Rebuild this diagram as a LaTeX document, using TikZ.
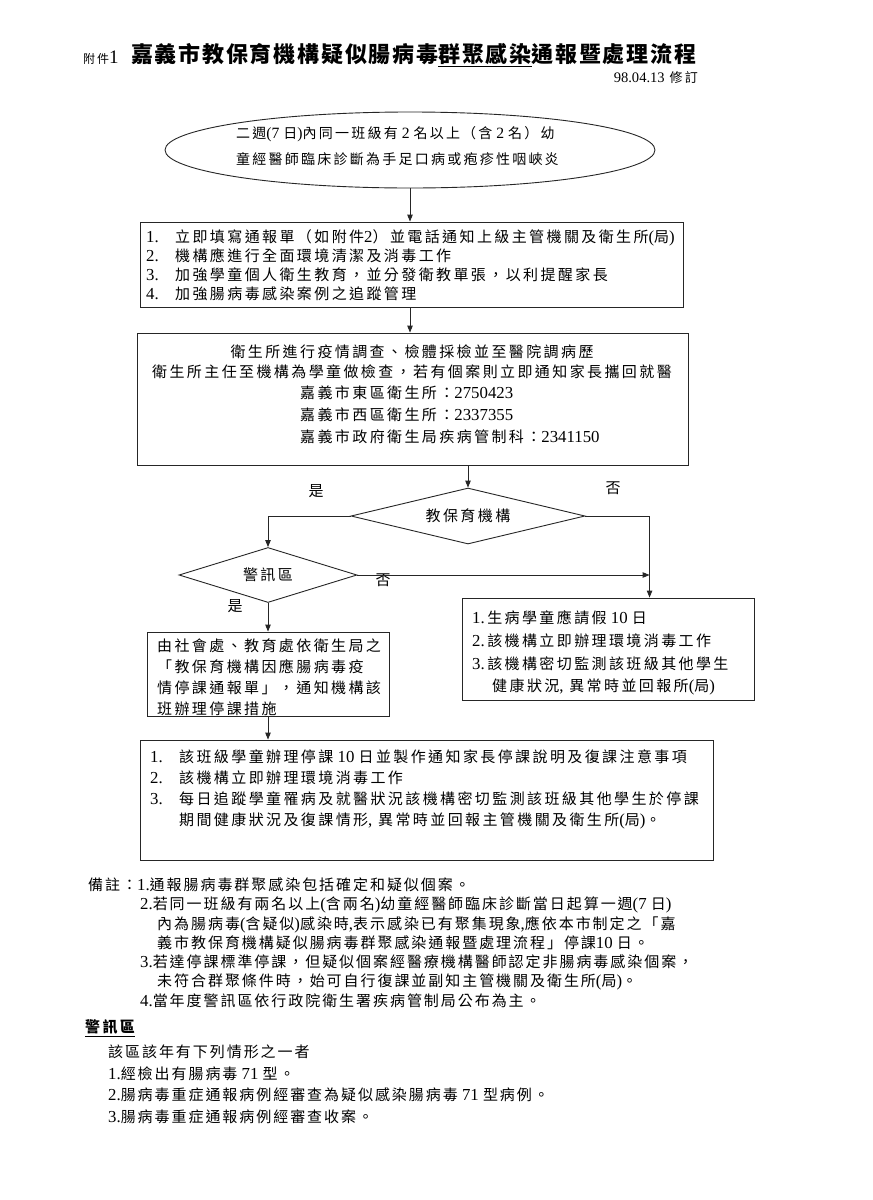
\documentclass[tikz,border=0pt]{standalone}
\usepackage{fontspec}
\setmainfont{Noto Sans CJK TC}
\newfontfamily\cjk[LetterSpace=16]{Noto Sans CJK TC}
\newfontfamily\cjke[LetterSpace=16]{Noto Sans CJK TC}
\newfontfamily\cjkn[LetterSpace=13]{Noto Sans CJK TC}
\newfontfamily\cjkt[LetterSpace=8]{Noto Sans CJK TC}
\newfontfamily\lat[Scale=1.12]{Liberation Serif}
\usetikzlibrary{shapes.geometric,arrows.meta}
\newcommand\itm[1]{\makebox[29pt][l]{\lat #1}}
\newcommand\dg[1]{{\lat #1}}
\begin{document}
\begin{tikzpicture}[x=1pt,y=-1pt,
  frame/.style={draw=black!85, line width=0.9pt, inner sep=0pt},
  arr/.style={draw=black!85, line width=0.9pt, -{Triangle[length=7pt,width=5.5pt]}},
  body/.style={inner sep=0pt, align=left, font=\cjk\fontsize{15}{21}\selectfont},
  lab/.style={inner sep=0pt, font=\cjk\fontsize{15}{17}\selectfont}]
\useasboundingbox (0,0) rectangle (873,1200);
\fill[white] (0,0) rectangle (873,1200);

% title
\node[inner sep=0pt, anchor=west, font=\cjk\fontsize{12}{14}\selectfont] (ann) at (83,58) {附件\dg{\fontsize{17}{17}\selectfont 1}};
\node[inner sep=0pt, anchor=west, font=\cjkt\fontsize{22}{26}\selectfont\bfseries] (title) at (131,55) {嘉義市教保育機構疑似腸病毒\underline{群聚感染}通報暨處理流程};
\node[inner sep=0pt, anchor=east, font=\cjk\fontsize{13}{15}\selectfont] (date) at (698,78) {\dg{98.04.13} 修訂};

% ellipse
\node[frame, ellipse, minimum width=490pt, minimum height=76pt] (ell) at (410,150) {};
\node[body, anchor=north west, font=\cjke\fontsize{14}{26}\selectfont] (ellt) at (236,126) {二週\dg{(7 }日\dg{)}內同一班級有\dg{\ 2\ }名以上（含\dg{\ 2\ }名）幼\\童經醫師臨床診斷為手足口病或疱疹性咽峽炎};

% box 1
\node[frame, minimum width=543pt, minimum height=85pt] (b1) at (411.5,264.5) {};
\node[body, anchor=north west, font=\cjk\fontsize{15}{19}\selectfont] (b1t) at (146,229.5) {\itm{1.}立即填寫通報單（如附件\dg{2}）並電話通知上級主管機關及衛生所\dg{(}局\dg{)}\\\itm{2.}機構應進行全面環境清潔及消毒工作\\\itm{3.}加強學童個人衛生教育，並分發衛教單張，以利提醒家長\\\itm{4.}加強腸病毒感染案例之追蹤管理};

% box 2
\node[frame, minimum width=551pt, minimum height=132pt] (b2) at (412.5,399) {};
\node[body, align=center, anchor=north, font=\cjk\fontsize{15}{20}\selectfont] (b2a) at (412,344.5) {衛生所進行疫情調查、檢體採檢並至醫院調病歷\\衛生所主任至機構為學童做檢查，若有個案則立即通知家長攜回就醫};
\node[body, anchor=north west, font=\cjk\fontsize{15}{22}\selectfont] (b2b) at (300,385.5) {嘉義市東區衛生所：\dg{2750423}\\嘉義市西區衛生所：\dg{2337355}\\嘉義市政府衛生局疾病管制科：\dg{2341150}};

% diamonds
\node[frame, diamond, aspect=4.2, minimum width=234pt, minimum height=56pt, font=\cjk\fontsize{15}{17}\selectfont] (d1) at (468,516) {教保育機構};
\node[frame, diamond, aspect=3.2, minimum width=178pt, minimum height=55pt, font=\cjk\fontsize{15}{17}\selectfont] (d2) at (268,575) {警訊區};

% box 3
\node[frame, minimum width=242pt, minimum height=84pt] (b3) at (268,674) {};
\node[body, anchor=north west, font=\cjk\fontsize{15}{21}\selectfont] (b3t) at (157,638.5) {由社會處、教育處依衛生局之\\「教保育機構因應腸病毒疫\\情停課通報單」，通知機構該\\班辦理停課措施};

% box 4
\node[frame, minimum width=292pt, minimum height=102pt] (b4) at (608,649) {};
\node[body, anchor=north west, font=\cjk\fontsize{15}{22.7}\selectfont] (b4t) at (472,610.5) {\dg{1.}\,生病學童應請假\dg{\ 10\ }日\\\dg{2.}\,該機構立即辦理環境消毒工作\\\dg{3.}\,該機構密切監測該班級其他學生\\\hspace*{20pt}健康狀況\dg{,} 異常時並回報所\dg{(}局\dg{)}};

% box 5
\node[frame, minimum width=573pt, minimum height=120pt] (b5) at (426.5,800) {};
\node[body, anchor=north west, font=\cjk\fontsize{15}{21}\selectfont] (b5t) at (150,749.5) {\itm{1.}該班級學童辦理停課\dg{\ 10\ }日並製作通知家長停課說明及復課注意事項\\\itm{2.}該機構立即辦理環境消毒工作\\\itm{3.}每日追蹤學童罹病及就醫狀況該機構密切監測該班級其他學生於停課\\\itm{}期間健康狀況及復課情形\dg{,} 異常時並回報主管機關及衛生所\dg{(}局\dg{)}。};

% labels
\node[lab] (yes1) at (316,491) {是};
\node[lab] (no1) at (613,488) {否};
\node[lab] (no2) at (383,580) {否};
\node[lab] (yes2) at (235,606) {是};

% connectors
\path (b4.north west) ++(188,0) coordinate (b4in);
\draw[arr] (ell.south) -- (ell.south |- b1.north);
\draw[arr] (ell.south |- b1.south) -- (ell.south |- b2.north);
\draw[arr] (b2.south -| d1.north) -- (d1.north);
\draw[arr] (d1.west) -| (d2.north);
\draw[arr] (d1.east) -| (b4in);
\draw[arr] (d2.east) -- (d2.east -| b4in);
\draw[arr] (d2.south) -- (d2.south |- b3.north);
\draw[arr] (b3.south) -- (b3.south |- b5.north);

% notes
\node[body, anchor=north west, font=\cjkn\fontsize{15}{19.3}\selectfont] (notes) at (88,877.5) {備註：\dg{1.}通報腸病毒群聚感染包括確定和疑似個案。\\
\hspace*{52pt}\dg{2.}若同一班級有兩名以上\dg{(}含兩名\dg{)}幼童經醫師臨床診斷當日起算一週\dg{(7 }日\dg{)}\\
\hspace*{69pt}內為腸病毒\dg{(}含疑似\dg{)}感染時\dg{,}表示感染已有聚集現象\dg{,}應依本市制定之「嘉\\
\hspace*{69pt}義市教保育機構疑似腸病毒群聚感染通報暨處理流程」停課\dg{10\ }日。\\
\hspace*{52pt}\dg{3.}若達停課標準停課，但疑似個案經醫療機構醫師認定非腸病毒感染個案，\\
\hspace*{69pt}未符合群聚條件時，始可自行復課並副知主管機關及衛生所\dg{(}局\dg{)}。\\
\hspace*{52pt}\dg{4.}當年度警訊區依行政院衛生署疾病管制局公布為主。};
\node[inner sep=0pt, anchor=west, font=\cjk\fontsize{15}{17}\selectfont\bfseries] (wt) at (85,1028) {\underline{警訊區}};
\node[body, anchor=north west, font=\cjkn\fontsize{15}{21.7}\selectfont] (wl) at (108,1044.5) {該區該年有下列情形之一者\\\dg{1.}經檢出有腸病毒\dg{\ 71\ }型。\\\dg{2.}腸病毒重症通報病例經審查為疑似感染腸病毒\dg{\ 71\ }型病例。\\\dg{3.}腸病毒重症通報病例經審查收案。};
\end{tikzpicture}
\end{document}
